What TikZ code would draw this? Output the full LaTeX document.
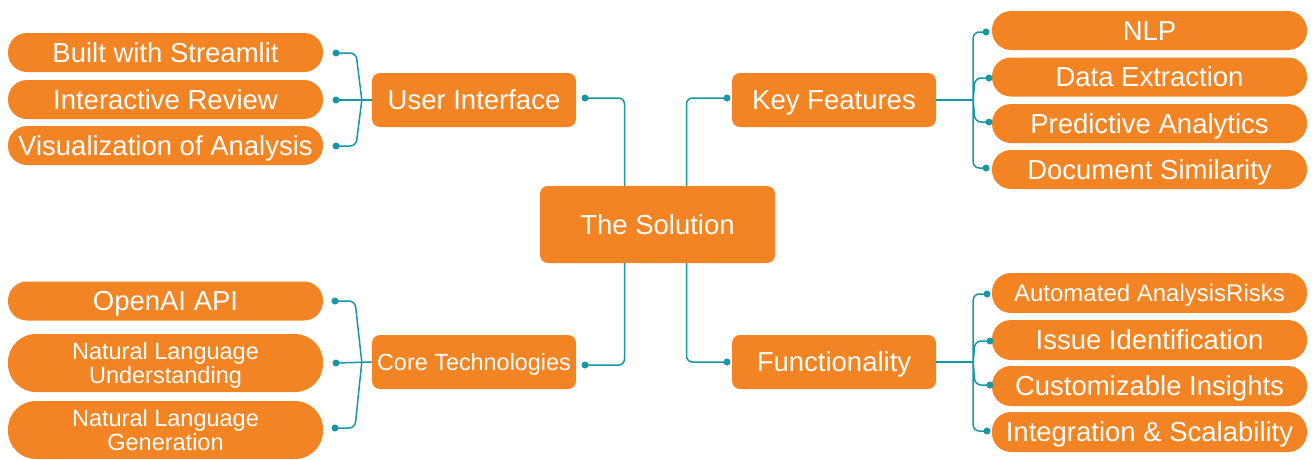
\documentclass[tikz,border=0pt]{standalone}
\usepackage{fontspec}
\setmainfont{Liberation Sans}
\definecolor{orng}{HTML}{F38424}
\definecolor{tealc}{HTML}{1797A6}
\begin{document}
\begin{tikzpicture}[x=1pt,y=-1pt,
  box/.style={fill=orng, text=white, rounded corners=8, inner sep=0pt, minimum width=204pt, minimum height=54pt, text height=19.7pt, text depth=0pt, font=\fontsize{27.5}{30}\selectfont},
  leaf/.style={fill=orng, text=white, inner sep=0pt, minimum width=315pt, minimum height=39pt, rounded corners=19pt, text height=19.7pt, text depth=0pt, font=\fontsize{27.5}{30}\selectfont},
  tall/.style={fill=orng, text=white, inner sep=0pt, minimum width=315pt, minimum height=58pt, rounded corners=28pt, align=center, text depth=0pt, font=\fontsize{23.5}{24}\selectfont},
  link/.style={draw=tealc, line width=1.5pt, rounded corners=6pt},
  dot/.style={circle, fill=tealc, inner sep=0pt, minimum size=7pt}]
\useasboundingbox (0,0) rectangle (1314,459);

% hub and branches
\node[box, minimum width=235pt, minimum height=77pt] (sol) at (657.5,224.5) {The Solution};
\node[box] (ui) at (474,100) {User Interface};
\node[box] (kf) at (834,100) {Key Features};
\node[box, text height=16.8pt, font=\fontsize{23.4}{26}\selectfont] (ct) at (474,362) {Core Technologies};
\node[box] (fn) at (834,362) {Functionality};

% left leaves
\node[leaf] (l1) at (165.5,52.5) {Built with Streamlit};
\node[leaf] (l2) at (165.5,99.5) {Interactive Review};
\node[leaf] (l3) at (165.5,145.5) {Visualization of Analysis};
\node[leaf] (l4) at (165.5,301) {OpenAI API};
\node[tall] (l5) at (165.5,363) {Natural Language\\Understanding};
\node[tall] (l6) at (165.5,430) {Natural Language\\Generation};

% right leaves
\node[leaf] (r1) at (1149.5,30.5) {NLP};
\node[leaf] (r2) at (1149.5,77) {Data Extraction};
\node[leaf] (r3) at (1149.5,123.5) {Predictive Analytics};
\node[leaf] (r4) at (1149.5,169.5) {Document Similarity};
\node[leaf, minimum height=40pt, text height=17.2pt, font=\fontsize{24}{26}\selectfont] (r5) at (1149.5,293) {Automated AnalysisRisks};
\node[leaf, minimum height=40pt] (r6) at (1149.5,340) {Issue Identification};
\node[leaf, minimum height=40pt] (r7) at (1149.5,386) {Customizable Insights};
\node[leaf, minimum height=40pt] (r8) at (1149.5,432) {Integration \& Scalability};

% dots at branch boxes
\node[dot] (uid) at (585,98) {};
\node[dot] (kfd) at (727,98) {};
\node[dot] (ctd) at (585,365) {};
\node[dot] (fnd) at (727,362) {};

% dots at leaves
\node[dot] (l1d) at (336,53) {};
\node[dot] (l2d) at (336,100) {};
\node[dot] (l3d) at (336,146) {};
\node[dot] (l4d) at (335,301) {};
\node[dot] (l5d) at (336,363) {};
\node[dot] (l6d) at (335,428) {};
\node[dot] (r1d) at (986,32) {};
\node[dot] (r2d) at (989,78) {};
\node[dot] (r3d) at (989,122) {};
\node[dot] (r4d) at (986,168) {};
\node[dot] (r5d) at (987,294) {};
\node[dot] (r6d) at (990,341) {};
\node[dot] (r7d) at (990,385) {};
\node[dot] (r8d) at (987,431) {};

% junctions
\coordinate (uij) at ([xshift=-10pt]ui.west);
\coordinate (ctj) at ([xshift=-10pt]ct.west);
\coordinate (kfj) at ([xshift=37pt]kf.east);
\coordinate (fnj) at ([xshift=37pt]fn.east);

% hub connectors
\draw[link] (uid.center) -| ([xshift=-33pt]sol.north);
\draw[link] (kfd.center) -| ([xshift=29pt]sol.north);
\draw[link] (ctd.center) -| ([xshift=-33pt]sol.south);
\draw[link] (fnd.center) -| ([xshift=29pt]sol.south);

% user interface bracket
\draw[link] (ui.west) -- (l2d.center);
\draw[link] (uij) -- ([xshift=20pt]l1d.center) -- (l1d.center);
\draw[link] (uij) -- ([xshift=20pt]l3d.center) -- (l3d.center);

% core technologies bracket
\draw[link] (ct.west) -- (l5d.center);
\draw[link] (ctj) -- ([xshift=20pt]l4d.center) -- (l4d.center);
\draw[link] (ctj) -- ([xshift=20pt]l6d.center) -- (l6d.center);

% key features bracket
\draw[link] (kf.east) -- (kfj);
\draw[link] (kfj) -- (kfj |- r1d.center) -- (r1d.center);
\draw[link] (kfj) -- ([xshift=-14pt]r2d.center) -- (r2d.center);
\draw[link] (kfj) -- ([xshift=-14pt]r3d.center) -- (r3d.center);
\draw[link] (kfj) -- (kfj |- r4d.center) -- (r4d.center);

% functionality bracket
\draw[link] (fn.east) -- (fnj);
\draw[link] (fnj) -- (fnj |- r5d.center) -- (r5d.center);
\draw[link] (fnj) -- ([xshift=-15pt]r6d.center) -- (r6d.center);
\draw[link] (fnj) -- ([xshift=-15pt]r7d.center) -- (r7d.center);
\draw[link] (fnj) -- (fnj |- r8d.center) -- (r8d.center);
\end{tikzpicture}
\end{document}
